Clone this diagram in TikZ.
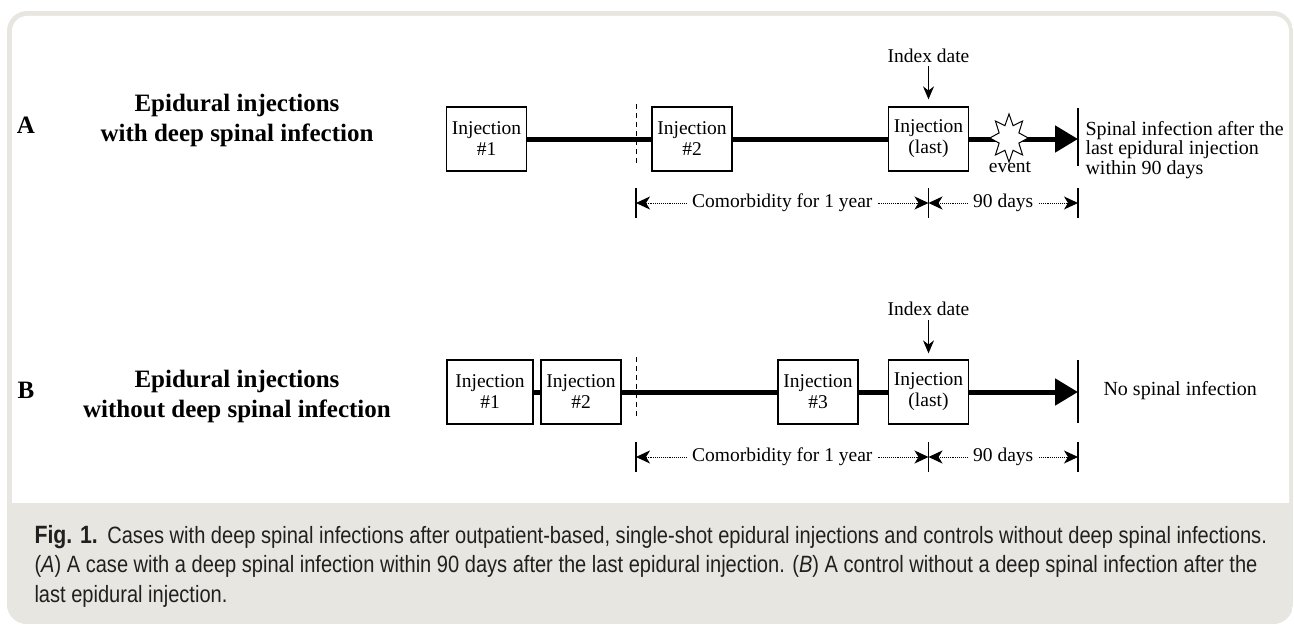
\documentclass[tikz,border=0pt]{standalone}
\usepackage{fontspec}
\setmainfont{Liberation Serif}
\newfontfamily\capfont[FakeStretch=0.85]{Liberation Sans}
\usetikzlibrary{calc}
\usetikzlibrary{arrows.meta}
\usetikzlibrary{shapes.geometric}
\definecolor{framegray}{RGB}{232,230,224}
\definecolor{captext}{RGB}{35,31,32}

\tikzset{
    injbox/.style={draw, line width=1.3pt, fill=white, minimum width=80pt, minimum height=64pt,
        inner sep=0pt, align=center, font=\fontsize{19.5}{21}\selectfont},
    thickline/.style={line width=5pt},
    endbar/.style={line width=1.3pt},
    cutline/.style={line width=1pt, dash pattern=on 5pt off 4pt},
    dimarrow/.style={line width=0.9pt, densely dotted,
        {Stealth[length=14pt,width=13pt,inset=4pt]}-{Stealth[length=14pt,width=13pt,inset=4pt]}},
    dimlabel/.style={fill=white, inner xsep=5pt, inner ysep=1pt, font=\fontsize{19.5}{21}\selectfont},
    idxarrow/.style={line width=1.2pt, -{Stealth[length=13pt,width=11pt]}},
    rowtitle/.style={align=center, font=\bfseries\fontsize{25}{30}\selectfont},
    rowletter/.style={font=\bfseries\fontsize{25}{30}\selectfont},
    plaintext/.style={font=\fontsize{19.5}{21}\selectfont},
}

\begin{document}
\begin{tikzpicture}[x=1pt, y=-1pt]
            \useasboundingbox (0,0) rectangle (1294,626);
            \begin{scope}
                \clip[rounded corners=20pt] (7,11) rectangle (1293,624);
                \fill[framegray] (7,11) rectangle (1293,624);
                \fill[white, rounded corners=15pt] (12,16) rectangle (1289,560);
                \fill[framegray] (7,503) rectangle (1293,624);
            \end{scope}

            \node[rowletter] (labA) at (26,125) {A};
            \node[rowtitle] (titleA) at (237,120) {Epidural injections\\with deep spinal infection};
            \node[injbox] (A1) at (486.5,139) {Injection\\\#1};
            \node[injbox] (A2) at (692,139) {Injection\\\#2};
            \node[injbox] (Alast) at (928.5,139) {Injection\\(last)};
            \coordinate (cutA) at (636,139);
            \coordinate (endA) at (1078,139);
            \draw[thickline] (A1) -- (A2);
            \draw[thickline] (A2) -- (Alast);
            \draw[thickline, -{Triangle[length=23pt,width=26pt]}] (Alast) -- (endA);
            \begin{scope}[shift={(1009,138)}, xscale=0.8]
                \node[star, star points=8, star point ratio=1.8, draw, fill=white, line width=1pt,
                    minimum size=48pt, inner sep=0pt, transform shape] (evtA) at (0,0) {};
            \end{scope}
            \node[plaintext] (evtlabA) at (1010,167) {event};
            \draw[cutline] ($(cutA)+(0,-35)$) -- ($(cutA)+(0,27)$);
            \draw[endbar] ($(endA)+(0,-31)$) -- ($(endA)+(0,27)$);
            \node[plaintext] (idxA) at (928.5,56) {Index date};
            \draw[idxarrow] ($(Alast.north)+(0,-40)$) -- ($(Alast.north)+(0,-7)$);
            \node[anchor=west, align=left, font=\fontsize{20}{19.5}\selectfont] (resA) at (1082,150)
                {Spinal infection after the\\last epidural injection\\within 90 days};
            \coordinate (dA0) at (636,203);
            \coordinate (dA1) at (928.5,203);
            \coordinate (dA2) at (1078,203);
            \foreach \p in {dA0,dA1,dA2}
                \draw[endbar] ($(\p)+(0,-15)$) -- ($(\p)+(0,15)$);
            \draw[dimarrow] (dA0) -- (dA1) node[midway, dimlabel] {Comorbidity for 1 year};
            \draw[dimarrow] (dA1) -- (dA2) node[midway, dimlabel] {90 days};

            \node[rowletter] (labB) at (26,390) {B};
            \node[rowtitle] (titleB) at (237,396) {Epidural injections\\without deep spinal infection};
            \node[injbox, minimum width=86pt] (B1) at (490,392) {Injection\\\#1};
            \node[injbox] (B2) at (581,392) {Injection\\\#2};
            \node[injbox] (B3) at (818,392) {Injection\\\#3};
            \node[injbox] (Blast) at (928.5,392) {Injection\\(last)};
            \coordinate (cutB) at (636,392);
            \coordinate (endB) at (1078,392);
            \draw[thickline] (B1) -- (B2);
            \draw[thickline] (B2) -- (B3);
            \draw[thickline] (B3) -- (Blast);
            \draw[thickline, -{Triangle[length=23pt,width=26pt]}] (Blast) -- (endB);
            \draw[cutline] ($(cutB)+(0,-35)$) -- ($(cutB)+(0,27)$);
            \draw[endbar] ($(endB)+(0,-32)$) -- ($(endB)+(0,31)$);
            \node[plaintext] (idxB) at (928.5,309) {Index date};
            \draw[idxarrow] ($(Blast.north)+(0,-39)$) -- ($(Blast.north)+(0,-6)$);
            \node[anchor=west, font=\fontsize{20}{21}\selectfont] (resB) at (1100,391) {No spinal infection};
            \coordinate (dB0) at (636,457);
            \coordinate (dB1) at (928.5,457);
            \coordinate (dB2) at (1078,457);
            \foreach \p in {dB0,dB1,dB2}
                \draw[endbar] ($(\p)+(0,-15)$) -- ($(\p)+(0,15)$);
            \draw[dimarrow] (dB0) -- (dB1) node[midway, dimlabel] {Comorbidity for 1 year};
            \draw[dimarrow] (dB1) -- (dB2) node[midway, dimlabel] {90 days};

            \node[anchor=west, align=left, text=captext, font=\capfont\fontsize{23.6}{29.5}\selectfont] (capt) at (31,566)
                {{\bfseries\fontsize{25}{29.5}\selectfont Fig. 1.}\hspace{0.4em}Cases with deep spinal infections after outpatient-based, single-shot epidural injections and controls without deep spinal infections.\\
                (\textit{A}) A case with a deep spinal infection within 90 days after the last epidural injection. (\textit{B}) A control without a deep spinal infection after the\\
                last epidural injection.};
\end{tikzpicture}
\end{document}
